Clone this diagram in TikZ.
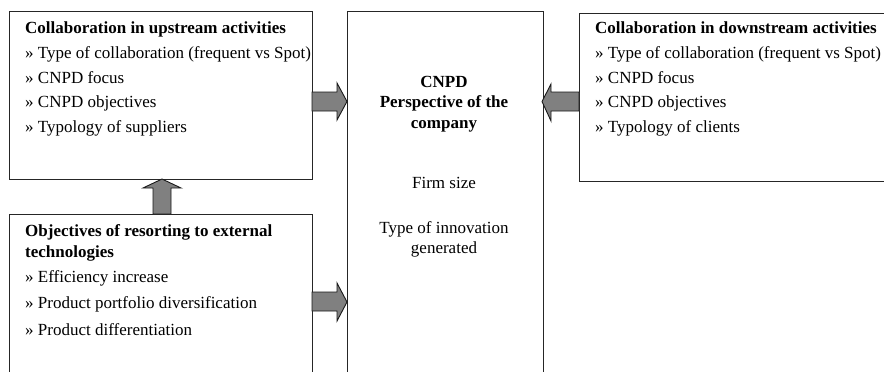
\documentclass[tikz,border=0pt]{standalone}
\usepackage{fontspec}
\setmainfont{Liberation Serif}
\begin{document}
\begin{tikzpicture}[x=1pt,y=-1pt,
  box/.style={draw=black!85, line width=1.2pt, fill=white, inner sep=0pt, anchor=north west},
  blk/.style={draw=black!90, line width=0.9pt, fill=black!50, line join=miter},
  txt/.style={anchor=base west, inner sep=0pt, font=\fontsize{17}{20}\selectfont},
  ctxt/.style={anchor=base, inner sep=0pt, font=\fontsize{17}{20}\selectfont},
  hd/.style={font=\fontsize{17}{20}\selectfont\bfseries}]
\clip (0,0) rectangle (884,372);
\fill[white] (0,0) rectangle (884,372);
% boxes
\node[box, minimum width=303pt, minimum height=168pt] (up) at (9,10.5) {};
\node[box, minimum width=196pt, minimum height=380pt] (mid) at (346.5,10.5) {};
\node[box, minimum width=303pt, minimum height=200pt] (low) at (9,214) {};
\node[box, minimum width=305pt, minimum height=168pt] (down) at (579,13) {};
% arrows
\draw[blk] (312,92) -- (337,92) -- (337,83) -- (347,101.5) -- (337,120) -- (337,111) -- (312,111) -- cycle;
\draw[blk] (579,92) -- (551,92) -- (551,84) -- (542,101.5) -- (551,121) -- (551,111) -- (579,111) -- cycle;
\draw[blk] (312,292) -- (337,292) -- (337,283) -- (347,302) -- (337,321) -- (337,311) -- (312,311) -- cycle;
\draw[blk] (153,214) -- (153,188) -- (143,188) -- (162,179) -- (181,188) -- (171,188) -- (171,214) -- cycle;
% upstream text
\node[txt, hd] (u0) at (25,34) {Collaboration in upstream activities};
\node[txt] (u1) at (25,58.5) {» Type of collaboration (frequent vs Spot)};
\node[txt] (u2) at (25,83) {» CNPD focus};
\node[txt] (u3) at (25,107.5) {» CNPD objectives};
\node[txt] (u4) at (25,132) {» Typology of suppliers};
% downstream text
\node[txt, hd] (d0) at (595,34) {Collaboration in downstream activities};
\node[txt] (d1) at (595,58.5) {» Type of collaboration (frequent vs Spot)};
\node[txt] (d2) at (595,83) {» CNPD focus};
\node[txt] (d3) at (595,107.5) {» CNPD objectives};
\node[txt] (d4) at (595,132) {» Typology of clients};
% lower text
\node[txt, hd] (l0) at (25,236) {Objectives of resorting to external};
\node[txt, hd] (l1) at (25,257) {technologies};
\node[txt] (l2) at (25,282) {» Efficiency increase};
\node[txt] (l3) at (25,308.5) {» Product portfolio diversification};
\node[txt] (l4) at (25,335) {» Product differentiation};
% centre text
\node[ctxt, hd] (m0) at (444,87) {CNPD};
\node[ctxt, hd] (m1) at (444,107) {Perspective of the};
\node[ctxt, hd] (m2) at (444,128) {company};
\node[ctxt] (m3) at (444,188) {Firm size};
\node[ctxt] (m4) at (444,233) {Type of innovation};
\node[ctxt] (m5) at (444,253) {generated};
\end{tikzpicture}
\end{document}
